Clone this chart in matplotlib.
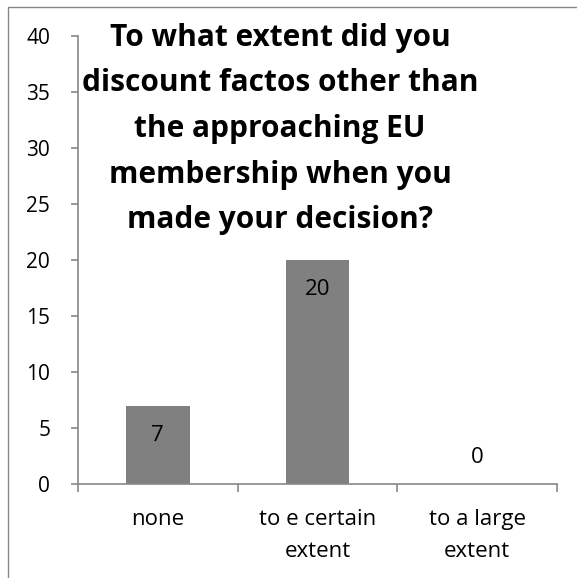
import matplotlib
matplotlib.use("Agg")
import matplotlib.pyplot as plt
from matplotlib.patches import Rectangle

categories = ["none", "to e certain\nextent", "to a large\nextent"]
counts = [7, 20, 0]
title = ("To what extent did you\ndiscount factos other than\nthe approaching EU\n"
         "membership when you\nmade your decision?")

W, H = 577, 578
plt.rcParams["font.family"] = ["Open Sans", "DejaVu Sans"]
fig = plt.figure(figsize=(W / 100, H / 100), dpi=100)

# outer chart frame (runs off the right and bottom edges)
fig.patches.append(Rectangle((8 / W, -0.1), 1.2, 1.1 - 7 / H, transform=fig.transFigure,
                             fill=False, edgecolor="#868686", linewidth=1.0))

ax = fig.add_axes([78 / W, 1 - 484 / H, (557 - 78) / W, (484 - 36) / H])
x = range(len(categories))
bars = ax.bar(x, counts, width=0.4, color="#808080")
ax.set_xlim(-0.5, len(categories) - 0.5)
ax.set_ylim(0, 40)
ax.set_yticks(range(0, 41, 5))
ax.set_xticks([i - 0.5 for i in range(len(categories) + 1)], minor=False)
ax.set_xticklabels([])
ax.set_xticks(list(x), minor=True)
ax.set_xticklabels(categories, minor=True, fontsize=16, linespacing=1.7)

for side in ("top", "right"):
    ax.spines[side].set_visible(False)
for side in ("left", "bottom"):
    ax.spines[side].set_color("#878787")
    ax.spines[side].set_linewidth(1.2)
ax.tick_params(axis="y", length=5, width=1.2, color="#878787", pad=15, labelsize=15)
ax.tick_params(axis="x", which="major", length=6, width=1.2, color="#878787")
ax.tick_params(axis="x", which="minor", length=0, pad=18)

# value labels: inside the bar top, or above the axis when the bar is empty
for b, v in zip(bars, counts):
    off = -21.5 if v > 0 else 19
    ax.annotate(str(v), (b.get_x() + b.get_width() / 2, v), xytext=(0, off),
                textcoords="offset points", ha="center", va="center", fontsize=16)

fig.text(280 / W, 1 - 129 / H, title, ha="center", va="center", fontsize=21.5,
         fontweight="bold", linespacing=1.68)

fig.savefig("out.png", dpi=100)
